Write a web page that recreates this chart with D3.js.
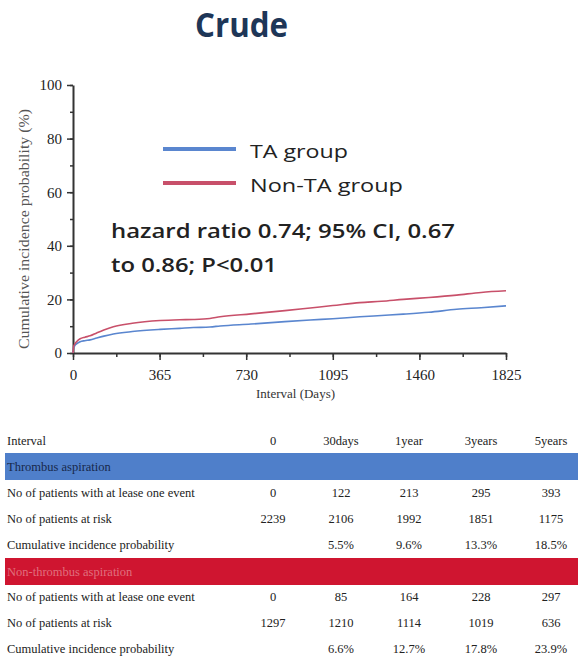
<!DOCTYPE html>
<html>
<head>
<meta charset="utf-8">
<script src="https://cdn.jsdelivr.net/npm/d3@7"></script>
<style>
  body { margin: 0; background: #fff; }
  svg { display: block; }
</style>
</head>
<body>
<div id="chart"></div>
<script>
// curve data (days, cumulative incidence %)
let days = [0, 3, 8, 15, 30, 50, 72, 100, 130, 170, 250, 367, 450, 507, 577, 620, 750, 893, 1000, 1095, 1209, 1300, 1392, 1500, 1617, 1720, 1825];
let taValues = [0, 2.0, 2.8, 3.4, 4.2, 4.6, 4.9, 5.6, 6.3, 7.1, 8.0, 8.8, 9.2, 9.5, 9.7, 10.1, 10.8, 11.7, 12.3, 12.8, 13.5, 14.0, 14.5, 15.2, 16.3, 16.9, 17.6];
let nonTaValues = [0, 2.5, 3.4, 4.2, 5.3, 5.9, 6.4, 7.5, 8.6, 9.8, 11.1, 12.1, 12.4, 12.5, 12.9, 13.5, 14.6, 15.8, 16.8, 17.7, 18.8, 19.3, 20.0, 20.7, 21.6, 22.6, 23.2];

let xTicks = [0, 365, 730, 1095, 1460, 1825];
let yTicks = [0, 20, 40, 60, 80, 100];

let seriesNames = ["TA group", "Non-TA group"];
let seriesColors = ["#5a86cf", "#c8506a"];

// table below the chart
let tableColumns = ["0", "30days", "1year", "3years", "5years"];
let rowLabels = ["No of patients with at lease one event", "No of patients at risk", "Cumulative incidence probability"];
let taTable = [
    ["0", "122", "213", "295", "393"],
    ["2239", "2106", "1992", "1851", "1175"],
    ["", "5.5%", "9.6%", "13.3%", "18.5%"]
];
let nonTaTable = [
    ["0", "85", "164", "228", "297"],
    ["1297", "1210", "1114", "1019", "636"],
    ["", "6.6%", "12.7%", "17.8%", "23.9%"]
];

let svgWidth = 578;
let svgHeight = 659;

let margin = { top: 85, left: 73 };
let width = 433;
let height = 268;

var svg = d3.select("#chart")
    .append("svg")
    .attr("width", svgWidth)
    .attr("height", svgHeight);

// title (the slide is a bit stretched sideways, so text gets a fixed length)
svg.append("text")
    .attr("x", 195)
    .attr("y", 37)
    .attr("font-family", "Open Sans")
    .attr("font-weight", "bold")
    .attr("font-size", "34px")
    .attr("textLength", 93)
    .attr("lengthAdjust", "spacingAndGlyphs")
    .attr("fill", "#1e3657")
    .text("Crude");

var chartGroup = svg.append("g")
    .attr("transform", `translate(${margin.left}, ${margin.top})`);

var xScale = d3.scaleLinear().domain([0, 1825]).range([0, width]);
var yScale = d3.scaleLinear().domain([0, 100]).range([height, 0]);

// minor ticks first, then major ticks on top
chartGroup.append("g")
    .attr("transform", `translate(0, ${height})`)
    .call(d3.axisBottom(xScale).tickValues(d3.range(0, 1826, 182.5)).tickSize(4).tickFormat(""))
    .call(g => g.select(".domain").remove())
    .selectAll("line").attr("stroke", "#333").attr("stroke-width", 1.5);

chartGroup.append("g")
    .call(d3.axisLeft(yScale).tickValues(d3.range(0, 101, 10)).tickSize(3).tickFormat(""))
    .call(g => g.select(".domain").remove())
    .selectAll("line").attr("stroke", "#333").attr("stroke-width", 1.5);

var xAxis = chartGroup.append("g")
    .attr("transform", `translate(0, ${height})`)
    .call(d3.axisBottom(xScale).tickValues(xTicks).tickSize(7).tickSizeOuter(0).tickPadding(9).tickFormat(d3.format("d")));

var yAxis = chartGroup.append("g")
    .call(d3.axisLeft(yScale).tickValues(yTicks).tickSize(6).tickSizeOuter(0).tickPadding(5));

[xAxis, yAxis].forEach(function(ax) {
    ax.select(".domain").attr("stroke", "#333").attr("stroke-width", 2);
    ax.selectAll(".tick line").attr("stroke", "#333").attr("stroke-width", 1.5);
    ax.selectAll(".tick text")
        .attr("font-family", "Liberation Serif")
        .attr("font-size", "15px")
        .attr("fill", "#222");
});

// axis titles
chartGroup.append("text")
    .attr("x", width / 2 + 6)
    .attr("y", height + 45)
    .attr("text-anchor", "middle")
    .attr("font-family", "Liberation Serif")
    .attr("font-size", "13px")
    .attr("fill", "#333")
    .text("Interval (Days)");

chartGroup.append("text")
    .attr("transform", "rotate(-90)")
    .attr("x", -(height / 2) - 10)
    .attr("y", -44)
    .attr("text-anchor", "middle")
    .attr("font-family", "Liberation Serif")
    .attr("font-size", "14px")
    .attr("textLength", 240)
    .attr("lengthAdjust", "spacingAndGlyphs")
    .attr("fill", "#555")
    .text("Cumulative incidence probability (%)");

// curves
var line = d3.line()
    .x(d => xScale(d[0]))
    .y(d => yScale(d[1]))
    .curve(d3.curveMonotoneX);

[taValues, nonTaValues].forEach(function(vals, i) {
    chartGroup.append("path")
        .datum(days.map((d, j) => [d, vals[j]]))
        .attr("d", line)
        .attr("fill", "none")
        .attr("stroke", seriesColors[i])
        .attr("stroke-width", 1.6);
});

// legend
let legendTextLength = [98, 153];
var legend = svg.append("g");
seriesNames.forEach(function(name, i) {
    var y = 149 + i * 34;
    legend.append("line")
        .attr("x1", 163).attr("x2", 236)
        .attr("y1", y).attr("y2", y)
        .attr("stroke", seriesColors[i])
        .attr("stroke-width", 4);
    legend.append("text")
        .attr("x", 250)
        .attr("y", y + 9)
        .attr("font-family", "Open Sans")
        .attr("font-size", "19px")
        .attr("textLength", legendTextLength[i])
        .attr("lengthAdjust", "spacingAndGlyphs")
        .attr("fill", "#222")
        .text(name);
});

// hazard ratio note
var note = svg.append("g")
    .attr("font-family", "Open Sans")
    .attr("font-weight", 600)
    .attr("font-size", "20px")
    .attr("fill", "#222");
note.append("text").attr("x", 111).attr("y", 238)
    .attr("textLength", 344).attr("lengthAdjust", "spacingAndGlyphs")
    .text("hazard ratio 0.74; 95% CI, 0.67");
note.append("text").attr("x", 111).attr("y", 272)
    .attr("textLength", 166).attr("lengthAdjust", "spacingAndGlyphs")
    .text("to 0.86; P<0.01");

// table
let colX = [273, 341, 409, 481, 551];
let table = svg.append("g")
    .attr("font-family", "Liberation Serif")
    .attr("font-size", "12.5px")
    .attr("fill", "#222");

function tableRow(y, label, cells) {
    table.append("text").attr("x", 7).attr("y", y).text(label);
    cells.forEach(function(c, i) {
        table.append("text")
            .attr("x", colX[i])
            .attr("y", y)
            .attr("text-anchor", "middle")
            .text(c);
    });
}

tableRow(445, "Interval", tableColumns);

function band(y, fill, textColor, label) {
    table.append("rect")
        .attr("x", 5).attr("y", y)
        .attr("width", svgWidth - 5).attr("height", 27)
        .attr("fill", fill);
    table.append("text")
        .attr("x", 7).attr("y", y + 18)
        .attr("fill", textColor)
        .text(label);
}

band(453, "#4f7fca", "#17284a", "Thrombus aspiration");
taTable.forEach((row, i) => tableRow(497 + i * 26, rowLabels[i], row));

band(558, "#cf1530", "#e0707e", "Non-thrombus aspiration");
nonTaTable.forEach((row, i) => tableRow(601 + i * 26, rowLabels[i], row));
</script>
</body>
</html>
